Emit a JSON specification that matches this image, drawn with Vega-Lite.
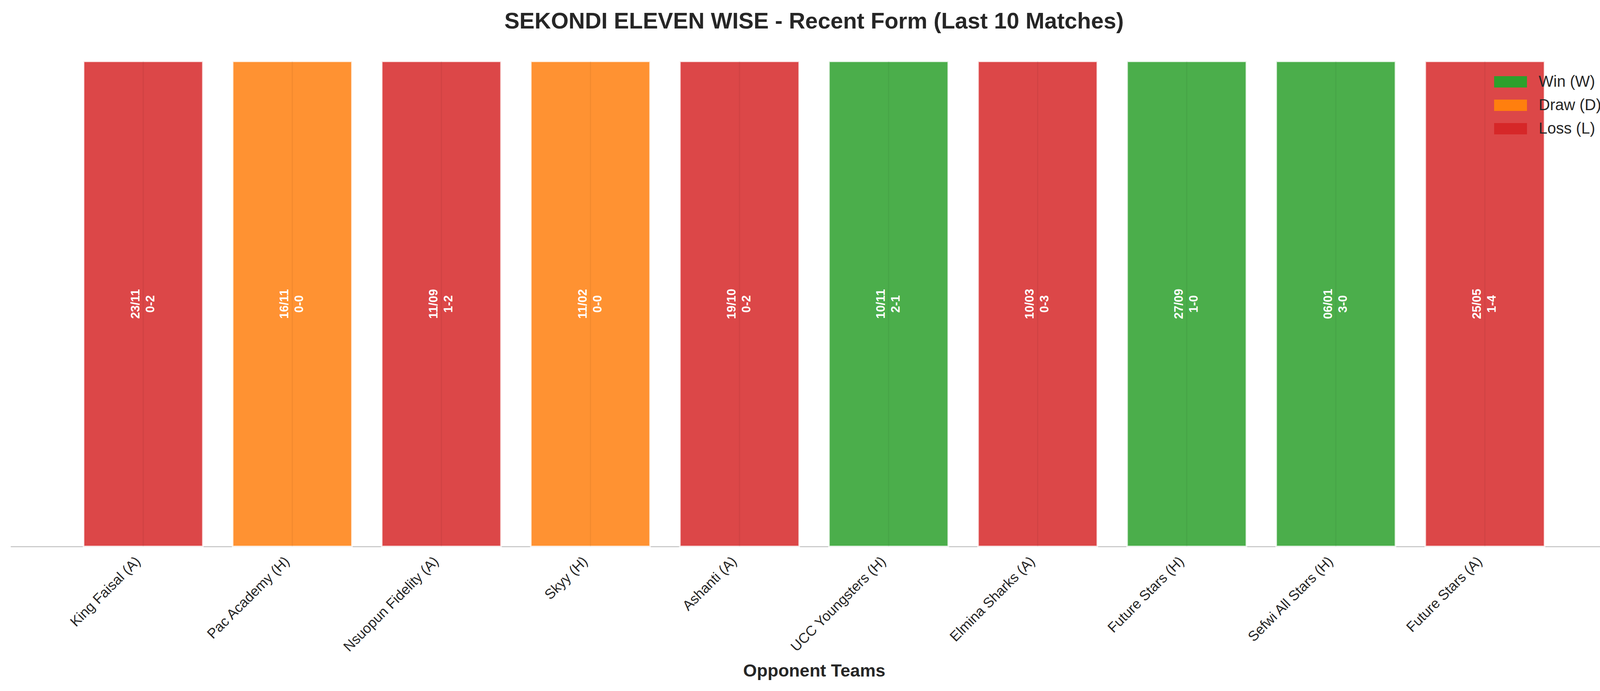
{
  "$schema": "https://vega.github.io/schema/vega-lite/v6.json",
  "autosize": "none",
  "width": 4114,
  "height": 1304,
  "padding": {"left": 27, "top": 95, "right": 29, "bottom": 370},
  "background": "white",
  "title": {
    "text": "SEKONDI ELEVEN WISE - Recent Form (Last 10 Matches)",
    "font": "Liberation Sans",
    "fontSize": 58,
    "fontWeight": "bold",
    "color": "#262626",
    "anchor": "middle",
    "baseline": "alphabetic",
    "offset": -36
  },
  "config": {
    "view": {"stroke": null},
    "font": "Liberation Sans"
  },
  "data": {
    "values": [
      {"team": "King Faisal (A)", "date": "23/11", "score": "0-2", "result": "Loss (L)", "value": 1},
      {"team": "Pac Academy (H)", "date": "16/11", "score": "0-0", "result": "Draw (D)", "value": 1},
      {"team": "Nsuopun Fidelity (A)", "date": "11/09", "score": "1-2", "result": "Loss (L)", "value": 1},
      {"team": "Skyy (H)", "date": "11/02", "score": "0-0", "result": "Draw (D)", "value": 1},
      {"team": "Ashanti (A)", "date": "19/10", "score": "0-2", "result": "Loss (L)", "value": 1},
      {"team": "UCC Youngsters (H)", "date": "10/11", "score": "2-1", "result": "Win (W)", "value": 1},
      {"team": "Elmina Sharks (A)", "date": "10/03", "score": "0-3", "result": "Loss (L)", "value": 1},
      {"team": "Future Stars (H)", "date": "27/09", "score": "1-0", "result": "Win (W)", "value": 1},
      {"team": "Sefwi All Stars (H)", "date": "06/01", "score": "3-0", "result": "Win (W)", "value": 1},
      {"team": "Future Stars (A)", "date": "25/05", "score": "1-4", "result": "Loss (L)", "value": 1}
    ]
  },
  "encoding": {
    "x": {
      "field": "team",
      "type": "nominal",
      "sort": null,
      "scale": {"paddingInner": 0.2, "paddingOuter": 0.49},
      "axis": {
        "title": "Opponent Teams",
        "titleFont": "Liberation Sans",
        "titleFontSize": 45,
        "titleFontWeight": "bold",
        "titleColor": "#262626",
        "titleBaseline": "alphabetic",
        "titleY": 332,
        "labelAngle": -45,
        "labelAlign": "right",
        "labelBaseline": "top",
        "labelFont": "Liberation Sans",
        "labelFontSize": 36,
        "labelColor": "#262626",
        "labelPadding": 20,
        "labelOffset": -25,
        "labelLimit": 1000,
        "ticks": false,
        "grid": false,
        "domainColor": "#cccccc",
        "domainWidth": 3
      }
    }
  },
  "layer": [
    {
      "mark": {
        "type": "bar",
        "fillOpacity": 0.85,
        "stroke": "white",
        "strokeWidth": 4,
        "strokeOpacity": 0.8
      },
      "encoding": {
        "y": {
          "field": "value",
          "type": "quantitative",
          "scale": {"domain": [0, 1.05], "nice": false, "zero": true},
          "axis": null
        },
        "color": {
          "field": "result",
          "type": "nominal",
          "scale": {
            "domain": ["Win (W)", "Draw (D)", "Loss (L)"],
            "range": ["#2ca02c", "#ff7f0e", "#d62728"]
          },
          "legend": {
            "title": null,
            "orient": "none",
            "legendX": 3792,
            "legendY": 94.5,
            "padding": 0,
            "symbolType": "M-2.9,-1H2.9V1H-2.9Z",
            "symbolSize": 841,
            "symbolStrokeWidth": 0,
            "symbolOpacity": 1,
            "symbolOffset": 28,
            "labelOffset": 52,
            "labelLimit": 1000,
            "labelFont": "Liberation Sans",
            "labelFontSize": 40,
            "labelColor": "#262626",
            "rowPadding": 20
          }
        }
      }
    },
    {
      "mark": {"type": "rule", "color": "#000000", "opacity": 0.05, "strokeWidth": 3},
      "encoding": {
        "y": {"field": "value", "type": "quantitative"},
        "y2": {"datum": 0}
      }
    },
    {
      "mark": {
        "type": "text",
        "angle": 270,
        "align": "center",
        "baseline": "middle",
        "dy": -19,
        "font": "Liberation Sans",
        "fontSize": 31,
        "fontWeight": "bold",
        "color": "white"
      },
      "encoding": {
        "y": {"datum": 0.5},
        "text": {"field": "date"}
      }
    },
    {
      "mark": {
        "type": "text",
        "angle": 270,
        "align": "center",
        "baseline": "middle",
        "dy": 19,
        "font": "Liberation Sans",
        "fontSize": 31,
        "fontWeight": "bold",
        "color": "white"
      },
      "encoding": {
        "y": {"datum": 0.5},
        "text": {"field": "score"}
      }
    }
  ]
}
